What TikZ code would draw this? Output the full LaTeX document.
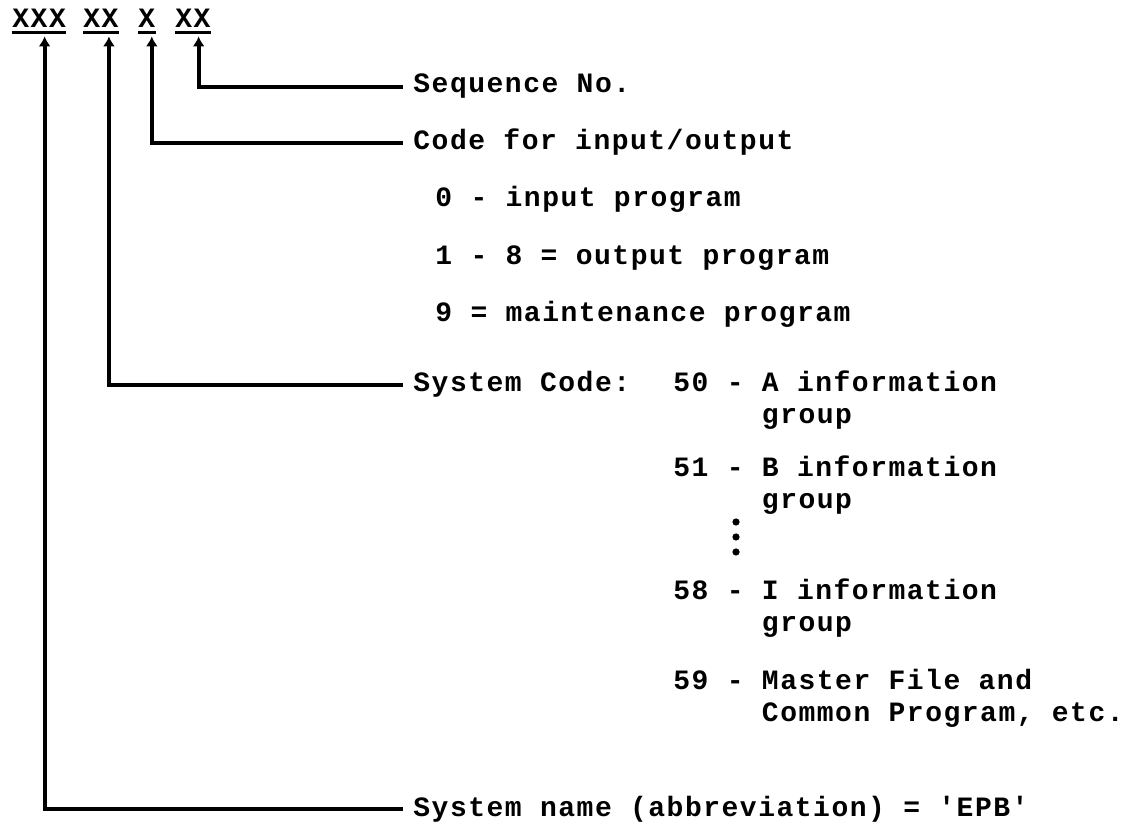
\documentclass[tikz,border=0pt]{standalone}
\usepackage{fontspec}
\newfontfamily\typer{Liberation Mono}[LetterSpace=5.4]
\usetikzlibrary{arrows.meta}

\begin{document}
\begin{tikzpicture}[
    x=0.5pt, y=-0.5pt,
    codetext/.style={font=\typer\bfseries\fontsize{14pt}{16pt}\selectfont, anchor=base west, inner sep=0pt},
    fieldlbl/.style={font=\typer\bfseries\fontsize{14pt}{16pt}\selectfont, anchor=base west, inner xsep=5pt, inner ysep=0pt},
    itemtext/.style={font=\typer\bfseries\fontsize{14pt}{16pt}\selectfont, anchor=base west, inner sep=0pt, align=left},
    lead/.style={line width=2pt, -{Latex[length=5pt,width=6pt]}},
    underbar/.style={line width=1.4pt}
]
\useasboundingbox (0,0) rectangle (1145,822);

% Top: the program number
\node[codetext] (codename) at (12,28) {XXX};
\node[codetext] (codesys) at (83,28) {XX};
\node[codetext] (codeio) at (138,28) {X};
\node[codetext] (codeseq) at (175,28) {XX};

\draw[underbar] ([yshift=-2pt]codename.south west) -- ([yshift=-2pt]codename.south east);
\draw[underbar] ([yshift=-2pt]codesys.south west) -- ([yshift=-2pt]codesys.south east);
\draw[underbar] ([yshift=-2pt]codeio.south west) -- ([yshift=-2pt]codeio.south east);
\draw[underbar] ([yshift=-2pt]codeseq.south west) -- ([yshift=-2pt]codeseq.south east);

% Right: what each part means
\node[fieldlbl] (seqlbl) at (403,93) {Sequence No.};
\node[fieldlbl] (iolbl) at (403,150) {Code for input/output};
\node[itemtext] (io0) at (435,207) {0 - input program};
\node[itemtext] (io1) at (435,265) {1 - 8 = output program};
\node[itemtext] (io9) at (435,322) {9 = maintenance program};

% (multi-line nodes sit on the baseline of their last line)
\node[fieldlbl] (syslbl) at (403,392) {System Code:};
\node[itemtext] (grpa) at (673,424) {50 - A information\\\phantom{50 - }group};
\node[itemtext] (grpb) at (673,509) {51 - B information\\\phantom{51 - }group};
\node[itemtext] (grpi) at (673,632) {58 - I information\\\phantom{58 - }group};
\node[itemtext] (grpmaster) at (673,721) {59 - Master File and\\\phantom{59 - }Common Program, etc.};

\node[fieldlbl] (namelbl) at (403,816) {System name (abbreviation) = 'EPB'};

% Dots between the groups
\fill (736,522) circle[radius=1.8pt];
\fill (736,537) circle[radius=1.8pt];
\fill (736,552) circle[radius=1.8pt];

% Arrows
\draw[lead] (seqlbl.west) -| ([xshift=2.85pt,yshift=-4pt]codeseq.south);
\draw[lead] (iolbl.west) -| ([xshift=2.5pt,yshift=-4pt]codeio.south);
\draw[lead] (syslbl.west) -| ([xshift=4pt,yshift=-4pt]codesys.south);
\draw[lead] (namelbl.west) -| ([xshift=2.75pt,yshift=-4pt]codename.south);

\end{tikzpicture}
\end{document}
